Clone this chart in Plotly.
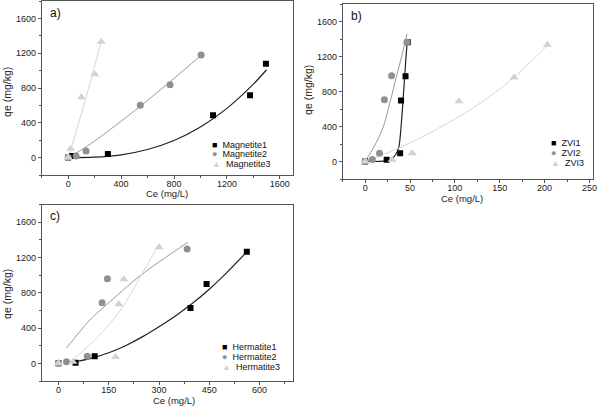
import plotly.graph_objects as go

# Panel a) Magnetite
mag1_x = [0, 30, 300, 1095, 1375, 1495]
mag1_y = [0, 19, 42, 488, 716, 1078]
mag2_x = [0, 60, 135, 545, 770, 1005]
mag2_y = [0, 19, 77, 602, 838, 1180]
mag3_x = [0, 18, 100, 202, 250]
mag3_y = [0, 103, 694, 957, 1333]
mag1_fit_x = [15, 200, 400, 600, 800, 1000, 1200, 1400, 1500]
mag1_fit_y = [0, 5, 32, 93, 197, 352, 566, 844, 1010]
mag2_fit_x = [7, 100, 200, 400, 600, 800, 1000]
mag2_fit_y = [11, 88, 191, 417, 658, 910, 1170]
mag3_fit_x = [5, 60, 120, 180, 244]
mag3_fit_y = [15, 300, 610, 935, 1307]

# Panel b) ZVI
zvi1_x = [0, 24, 39, 40, 45, 47.5]
zvi1_y = [0, 19, 95, 697, 975, 1364]
zvi2_x = [0, 8, 16, 21.5, 29.5, 46.5]
zvi2_y = [0, 23, 95, 705, 979, 1364]
zvi3_x = [0, 30, 52.5, 104.5, 166, 203]
zvi3_y = [0, 19, 95, 690, 960, 1335]
zvi1_fit_x = [0, 20, 25, 30, 34, 37.5, 40, 42.2, 44, 45.8, 47]
zvi1_fit_y = [0, 5, 15, 35, 80, 163, 392, 697, 963, 1230, 1383]
zvi2_fit_x = [0, 10, 20, 28, 35, 41, 46.6]
zvi2_fit_y = [0, 170, 390, 690, 975, 1215, 1459]
zvi3_fit_x = [0, 40, 80, 120, 160, 202]
zvi3_fit_y = [0, 165, 370, 610, 910, 1314]

# Panel c) Hermatite
her1_x = [0, 51, 108, 394, 442, 562]
her1_y = [0, 8, 80, 627, 900, 1265]
her2_x = [0, 24, 86, 130, 146, 384]
her2_y = [0, 19, 80, 686, 959, 1297]
her3_x = [0, 43, 170, 180, 195, 300]
her3_y = [0, 19, 72, 671, 952, 1316]
her1_fit_x = [45, 100, 150, 200, 250, 300, 350, 400, 450, 500, 560]
her1_fit_y = [15, 60, 120, 200, 300, 415, 540, 680, 840, 1020, 1255]
her2_fit_x = [24, 93, 142, 246, 386]
her2_fit_y = [174, 489, 660, 1000, 1372]
her3_fit_x = [40, 93, 142, 192, 241, 296]
her3_fit_y = [30, 210, 400, 640, 960, 1323]

BLACK = '#000000'
GREY = '#909090'
LIGHT = '#d2d2d2'
FONT = 'Arial, Liberation Sans, sans-serif'

fig = go.Figure()

def add_panel(ax, pts, fits):
    xa, ya = ('x', 'y') if ax == 1 else ('x%d' % ax, 'y%d' % ax)
    styles = [(BLACK, 'square', 6, '#222222', 1.2),
              (GREY, 'circle', 7, '#999999', 1.0),
              (LIGHT, 'triangle-up', 8, '#d6d6d6', 1.0)]
    for (fx, fy), (c, s, sz, lc, lw) in zip(fits, styles):
        fig.add_trace(go.Scatter(x=fx, y=fy, mode='lines', xaxis=xa, yaxis=ya,
                                 line=dict(color=lc, width=lw, shape='spline', smoothing=0.8),
                                 showlegend=False, hoverinfo='skip'))
    for (px, py), (c, s, sz, lc, lw) in zip(pts, styles):
        fig.add_trace(go.Scatter(x=px, y=py, mode='markers', xaxis=xa, yaxis=ya,
                                 marker=dict(color=c, symbol=s, size=sz),
                                 showlegend=False))

add_panel(1, [(mag1_x, mag1_y), (mag2_x, mag2_y), (mag3_x, mag3_y)],
          [(mag1_fit_x, mag1_fit_y), (mag2_fit_x, mag2_fit_y), (mag3_fit_x, mag3_fit_y)])
add_panel(2, [(zvi1_x, zvi1_y), (zvi2_x, zvi2_y), (zvi3_x, zvi3_y)],
          [(zvi1_fit_x, zvi1_fit_y), (zvi2_fit_x, zvi2_fit_y), (zvi3_fit_x, zvi3_fit_y)])
add_panel(3, [(her1_x, her1_y), (her2_x, her2_y), (her3_x, her3_y)],
          [(her1_fit_x, her1_fit_y), (her2_fit_x, her2_fit_y), (her3_fit_x, her3_fit_y)])

W, H = 604, 407

def ax_style(rng, dtick, standoff=0):
    return dict(range=rng, dtick=dtick, tick0=0, showgrid=False, zeroline=False,
                showline=True, linecolor='#555555', linewidth=1, mirror=True,
                ticks='outside', ticklen=3, tickcolor='#555555',
                ticklabelstandoff=standoff,
                minor=dict(ticks='outside', ticklen=2, dtick=dtick / 2, tickcolor='#555555'),
                tickfont=dict(size=9, color='#222222', family=FONT))

fig.update_layout(
    width=W, height=H,
    margin=dict(l=0, r=0, t=0, b=0),
    paper_bgcolor='white', plot_bgcolor='white',
    xaxis=dict(domain=[42 / W, 295 / W], anchor='y', **ax_style([-200, 1700], 400, -3)),
    yaxis=dict(domain=[1 - 175 / H, 1 - 1 / H], anchor='x', **ax_style([-200, 1800], 400)),
    xaxis2=dict(domain=[345 / W, 597 / W], anchor='y2', **ax_style([-25, 254], 50, -3)),
    yaxis2=dict(domain=[1 - 179 / H, 1 - 4 / H], anchor='x2', **ax_style([-200, 1800], 400)),
    xaxis3=dict(domain=[42 / W, 295 / W], anchor='y3', **ax_style([-50, 700], 150, -3)),
    yaxis3=dict(domain=[1 - 381 / H, 1 - 204.5 / H], anchor='x3', **ax_style([-200, 1800], 400)),
)

# axis titles
for xc, yc in [(168, 193), (465, 198), (175, 400.5)]:
    fig.add_annotation(text='Ce (mg/L)', xref='paper', yref='paper', x=xc / W, y=1 - yc / H,
                       xanchor='center', yanchor='middle', showarrow=False,
                       font=dict(size=9.5, color='#222222', family=FONT))
for xc, yc in [(7, 92), (310, 90), (7, 294)]:
    fig.add_annotation(text='qe (mg/kg)', xref='paper', yref='paper', x=xc / W, y=1 - yc / H,
                       xanchor='center', yanchor='middle', showarrow=False, textangle=-90,
                       font=dict(size=10.5, color='#222222', family=FONT))

# panel labels
for txt, xr, yr in [('a)', 'x', 'y'), ('b)', 'x2', 'y2'), ('c)', 'x3', 'y3')]:
    fig.add_annotation(text=txt, xref=xr + ' domain', yref=yr + ' domain', x=0.025, y=0.985,
                       xanchor='left', yanchor='top', showarrow=False,
                       font=dict(size=12, color='#111111', family=FONT))

# compact legends
def add_legend(xr, yr, x, y0, names, step=0.055):
    syms = [('■', BLACK), ('●', GREY), ('▲', LIGHT)]
    for i, (name, (sym, col)) in enumerate(zip(names, syms)):
        fig.add_annotation(text='<span style="color:%s">%s</span>  %s' % (col, sym, name),
                           xref=xr + ' domain', yref=yr + ' domain', x=x, y=y0 - i * step,
                           xanchor='left', yanchor='middle', showarrow=False,
                           font=dict(size=9, color='#111111', family=FONT))

add_legend('x', 'y', 0.668, 0.175, ['Magnetite1', 'Magnetite2', 'Magnetite3'])
add_legend('x2', 'y2', 0.825, 0.205, ['ZVI1', 'ZVI2', 'ZVI3'], step=0.058)
add_legend('x3', 'y3', 0.71, 0.19, ['Hermatite1', 'Hermatite2', 'Hermatite3'])

fig.write_html("out.html", config={'displayModeBar': False},
               post_script="document.body.style.margin='0';")
